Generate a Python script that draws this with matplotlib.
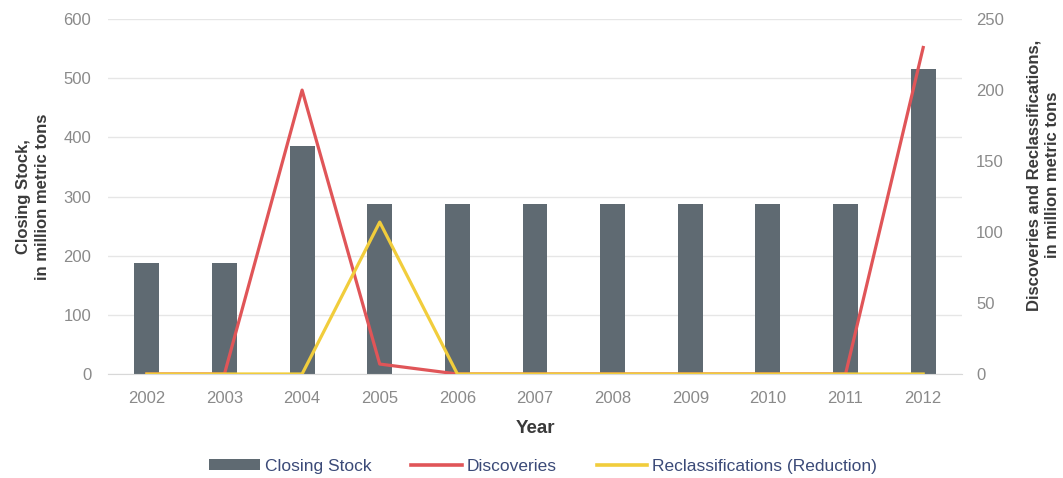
import matplotlib
matplotlib.use("Agg")
import matplotlib.pyplot as plt
from matplotlib.patches import Patch
from matplotlib.lines import Line2D

years = ["2002", "2003", "2004", "2005", "2006", "2007", "2008", "2009", "2010", "2011", "2012"]
closing_stock = [187, 187, 386, 287, 287, 287, 287, 287, 287, 287, 516]
discoveries = [0, 0, 200, 7, 0, 0, 0, 0, 0, 0, 230]
reclassifications = [0, 0, 0, 107, 0, 0, 0, 0, 0, 0, 0]

bar_color = "#5f6a72"
red = "#e05558"
yellow = "#f1cd3c"
tick_color = "#8a8a8a"
grid_color = "#e6e6e6"

plt.rcParams["font.family"] = ["Liberation Sans", "DejaVu Sans"]

fig = plt.figure(figsize=(10.63, 4.78), dpi=100)
ax = fig.add_axes([0.1016, 0.2176, 0.8034, 0.7424])
ax2 = ax.twinx()

x = list(range(len(years)))
ax.bar(x, closing_stock, width=0.32, color=bar_color, zorder=2)
ax.set_ylim(0, 600)
ax.set_yticks(range(0, 601, 100))
ax.set_xlim(-0.5, 10.5)
ax.set_xticks(x)
ax.set_xticklabels(years)
ax.grid(axis="y", color=grid_color, linewidth=1, zorder=0)
ax.set_axisbelow(True)

ax2.plot(x, discoveries, color=red, linewidth=2.3, zorder=3)
ax2.plot(x, reclassifications, color=yellow, linewidth=2.3, zorder=4)
ax2.set_ylim(0, 250)
ax2.set_yticks(range(0, 251, 50))

for a in (ax, ax2):
    for s in a.spines.values():
        s.set_visible(False)
    a.tick_params(length=0, colors=tick_color, labelsize=12)
ax.spines["bottom"].set_visible(True)
ax.spines["bottom"].set_color("#d8d8d8")
ax.tick_params(axis="y", pad=12)
ax.tick_params(axis="x", pad=12)
ax2.tick_params(axis="y", pad=10)

ax.set_ylabel("Closing Stock,\nin million metric tons", fontsize=12, fontweight="bold",
              color="#3a3a3a", linespacing=1.3)
ax.yaxis.set_label_coords(-0.068, 0.5)
ax2.set_ylabel("Discoveries and Reclassifications,\nin million metric tons", fontsize=12,
               fontweight="bold", color="#3a3a3a", linespacing=1.3)
ax2.yaxis.set_label_coords(1.075, 0.56)
ax.set_xlabel("Year", fontsize=13.5, fontweight="bold", color="#3a3a3a", labelpad=10)

handles = [
    Patch(facecolor=bar_color, edgecolor="none"),
    Line2D([], [], color=red, linewidth=2.6),
    Line2D([], [], color=yellow, linewidth=2.6),
]
labels = ["Closing Stock", "Discoveries", "Reclassifications (Reduction)"]
leg = fig.legend(handles, labels, loc="center", bbox_to_anchor=(0.511, 0.025), ncol=3,
                 frameon=False, fontsize=12.5, handlelength=2.9, handleheight=0.55,
                 handletextpad=0.3, columnspacing=2.3)
for t in leg.get_texts():
    t.set_color("#3b4a78")

fig.savefig("out.png", dpi=100)
